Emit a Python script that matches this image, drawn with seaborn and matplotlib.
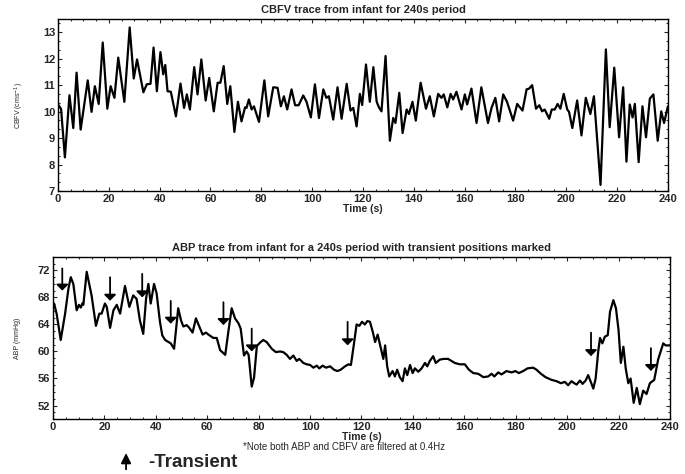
import pandas as pd
import seaborn as sns
import matplotlib.pyplot as plt
from matplotlib.ticker import MultipleLocator

# CBFV trace (time s, cm/s)
cbfv_time = [0, 1.2, 2.7, 4.5, 6.0, 7.3, 8.9, 11.7, 13.2, 14.5, 16.0, 17.6, 19.4, 20.7, 22.2,
             23.7, 26.1, 28.2, 29.8, 31.1, 33.6, 34.9, 36.4, 37.6, 38.9, 40.3, 41.4, 42.2, 43.1,
             44.4, 46.4, 48.2, 49.6, 50.7, 51.9, 53.6, 54.9, 56.4, 58.1, 59.5, 61.3, 62.8, 63.9,
             65.2, 66.6, 67.8, 69.4, 70.8, 72.2, 73.6, 74.2, 75.1, 76.2, 77.1, 79.1, 81.2, 82.7,
             84.7, 86.4, 87.7, 88.9, 90.2, 91.9, 93.3, 94.7, 96.5, 97.8, 99.5, 101.1, 102.7, 104.4,
             105.6, 106.6, 108.3, 110.0, 111.6, 113.6, 115.1, 116.2, 117.5, 118.8, 119.7, 121.2,
             122.7, 124.1, 125.4, 126.3, 127.3, 128.9, 130.6, 131.9, 132.8, 134.3, 135.6, 137.2,
             138.1, 139.5, 140.8, 142.7, 144.8, 146.3, 147.9, 149.6, 150.9, 151.8, 153.2, 154.5,
             155.5, 156.8, 158.8, 160.1, 161.0, 162.7, 164.7, 166.6, 169.2, 170.6, 172.1, 173.6,
             175.2, 176.7, 179.1, 180.7, 182.8, 184.4, 185.4, 186.6, 188.1, 189.4, 190.5, 191.5,
             192.2, 193.3, 194.3, 195.5, 196.6, 197.7, 199.0, 200.4, 201.1, 202.4, 204.3, 206.0,
             207.7, 209.5, 210.9, 213.5, 215.6, 217.1, 218.9, 220.8, 222.4, 223.7, 225.0, 226.1,
             227.0, 228.5, 230.0, 231.4, 232.9, 234.3, 236.0, 237.4, 238.5, 240.0]
cbfv_value = [10.27, 10.1, 8.27, 10.62, 9.38, 11.47, 9.32, 11.18, 9.99, 10.96, 10.29, 12.61, 10.11,
              10.96, 10.52, 12.04, 10.37, 13.18, 11.25, 11.97, 10.73, 11.03, 11.05, 12.42, 10.77,
              12.25, 11.41, 11.76, 10.77, 10.75, 9.82, 11.06, 10.14, 10.65, 10.08, 11.68, 10.65,
              11.97, 10.42, 11.27, 10.01, 11.09, 11.09, 11.72, 10.29, 10.96, 9.23, 10.37, 9.63,
              10.16, 10.14, 10.46, 10.08, 10.2, 9.61, 11.18, 9.82, 10.92, 10.9, 10.2, 10.58, 10.08,
              10.84, 10.24, 10.24, 10.61, 10.37, 9.78, 11.03, 9.76, 10.84, 10.52, 10.58, 9.7, 10.92,
              9.73, 11.05, 10.04, 10.14, 9.44, 10.67, 10.25, 11.78, 10.37, 11.68, 10.37, 10.16,
              10.01, 12.1, 8.9, 9.76, 9.57, 10.71, 9.19, 10.08, 9.91, 10.37, 9.66, 11.09, 10.11,
              10.58, 9.82, 10.67, 10.52, 10.65, 10.16, 10.67, 10.46, 10.75, 10.08, 10.65, 10.27,
              10.87, 9.57, 10.92, 9.57, 10.14, 10.52, 9.63, 10.65, 10.37, 9.66, 10.29, 10.04, 10.84,
              10.87, 11.0, 10.11, 10.24, 10.01, 10.08, 9.95, 9.73, 10.08, 10.08, 10.29, 10.11, 10.67,
              10.08, 9.99, 9.38, 10.42, 9.1, 10.52, 9.91, 10.58, 7.23, 12.35, 9.41, 11.66, 9.03,
              10.92, 8.11, 10.27, 9.78, 10.29, 8.09, 10.2, 9.03, 10.49, 10.65, 8.9, 10.01, 9.57, 10.2]

# ABP trace (time s, mmHg)
abp_time = [0.4, 1.4, 3.0, 4.7, 6.0, 6.9, 7.9, 9.2, 10.1, 10.8, 11.4, 11.8, 13.1, 15.0, 16.7,
            18.0, 18.9, 20.2, 20.9, 22.2, 23.5, 24.8, 26.1, 28.0, 29.7, 31.2, 32.5, 33.8, 35.1,
            36.2, 37.1, 38.0, 39.3, 40.3, 41.6, 42.5, 43.6, 44.5, 45.8, 47.1, 48.7, 49.8, 50.7,
            52.0, 53.0, 54.3, 55.6, 56.9, 58.2, 59.5, 60.8, 62.4, 63.7, 65.0, 67.0, 68.2, 69.5,
            70.8, 72.1, 73.0, 74.3, 75.3, 76.1, 77.3, 78.2, 79.3, 80.5, 81.8, 83.1, 85.1, 86.7,
            88.3, 89.6, 90.9, 92.2, 93.5, 94.8, 95.8, 97.4, 98.7, 100.0, 101.3, 102.6, 103.6,
            104.9, 106.2, 107.8, 109.3, 110.6, 111.9, 113.6, 114.9, 115.9, 117.1, 118.1, 119.2,
            120.2, 121.3, 122.3, 123.3, 124.4, 125.3, 126.3, 127.5, 128.5, 129.2, 130.0, 130.8,
            132.1, 133.0, 133.9, 134.9, 136.0, 136.9, 137.8, 138.9, 139.9, 140.8, 142.1, 143.4,
            144.7, 145.6, 146.6, 147.9, 148.9, 150.5, 152.0, 153.7, 155.0, 156.3, 158.2, 160.2,
            161.8, 163.5, 165.4, 167.4, 169.3, 170.6, 171.7, 173.2, 174.5, 176.4, 178.4, 179.9,
            181.2, 182.9, 184.6, 186.8, 188.1, 189.8, 191.6, 193.9, 195.9, 197.6, 199.1, 200.4,
            201.7, 202.8, 203.7, 205.0, 206.0, 207.2, 208.2, 208.9, 210.2, 211.1, 212.1, 212.8,
            213.7, 214.7, 215.8, 216.7, 218.0, 219.0, 220.0, 220.9, 221.9, 222.8, 223.8, 224.7,
            225.9, 227.1, 228.3, 229.6, 230.9, 232.2, 233.9, 235.4, 237.4, 238.3, 240.0]
abp_value = [67.1, 65.6, 61.7, 65.6, 69.3, 71.0, 70.0, 66.1, 66.9, 66.5, 67.1, 66.9, 71.8, 68.3,
             63.8, 65.6, 65.6, 67.1, 66.6, 63.5, 66.1, 66.9, 65.6, 69.7, 66.6, 68.3, 67.8, 64.6,
             62.6, 67.8, 70.0, 67.1, 70.0, 68.6, 64.4, 62.4, 61.7, 61.5, 61.2, 60.4, 66.4, 64.6,
             63.7, 63.9, 63.5, 62.8, 64.9, 63.7, 62.5, 62.8, 62.4, 62.0, 62.0, 60.2, 59.5, 62.9,
             66.4, 64.9, 64.2, 63.4, 59.4, 60.0, 59.5, 54.8, 56.1, 60.8, 61.3, 61.7, 61.4, 60.4,
             59.9, 60.0, 59.9, 59.5, 58.9, 59.4, 58.6, 58.9, 58.3, 58.1, 58.0, 57.6, 57.9, 57.5,
             57.9, 57.6, 57.8, 57.3, 57.1, 57.3, 57.8, 58.1, 58.0, 61.2, 64.0, 63.8, 64.4, 64.0,
             64.5, 64.4, 62.9, 61.4, 62.5, 60.5, 58.9, 60.9, 57.8, 56.3, 57.1, 56.3, 57.3, 56.2,
             55.6, 57.5, 56.5, 58.0, 56.8, 57.5, 57.0, 57.5, 58.3, 57.8, 58.6, 59.3, 58.3, 58.8,
             58.9, 58.9, 58.6, 58.3, 58.1, 58.1, 57.3, 56.8, 56.7, 56.2, 56.3, 56.7, 56.3, 56.9,
             56.6, 57.1, 56.9, 57.1, 56.8, 57.1, 57.5, 57.6, 57.3, 56.7, 56.2, 55.8, 55.6, 55.3,
             55.5, 55.0, 55.6, 55.3, 55.1, 55.7, 55.2, 55.7, 56.5, 55.8, 54.5, 56.0, 60.0, 62.0,
             61.2, 62.2, 62.4, 65.9, 67.6, 66.4, 63.2, 58.3, 60.7, 57.5, 55.3, 56.0, 52.4, 54.6,
             52.2, 54.2, 53.7, 55.3, 55.8, 58.8, 61.2, 60.9, 60.9]

# transient markers: time, arrow top, arrow tip
transient_time = [3.6, 22.2, 34.7, 45.8, 66.3, 77.3, 114.6, 209.3, 232.6]
transient_top = [72.7, 71.4, 71.9, 67.9, 67.7, 63.8, 64.8, 63.2, 60.9]
transient_tip = [68.6, 67.1, 67.6, 63.7, 63.5, 59.6, 60.5, 58.9, 56.7]

cbfv_df = pd.DataFrame({'Time': cbfv_time, 'CBFV': cbfv_value})
abp_df = pd.DataFrame({'Time': abp_time, 'ABP': abp_value})

sns.set_style('ticks')
plt.rcParams['font.family'] = ['Liberation Sans', 'DejaVu Sans']
plt.rcParams['xtick.direction'] = 'in'
plt.rcParams['ytick.direction'] = 'in'

fig = plt.figure(figsize=(6.85, 4.74), dpi=100)
ax1 = fig.add_axes([0.0847, 0.597, 0.8903, 0.363])
ax2 = fig.add_axes([0.0774, 0.116, 0.9006, 0.342])

sns.lineplot(data=cbfv_df, x='Time', y='CBFV', ax=ax1, color='black', linewidth=1.6,
             solid_joinstyle='round')
sns.lineplot(data=abp_df, x='Time', y='ABP', ax=ax2, color='black', linewidth=1.6,
             solid_joinstyle='round')

for ax in (ax1, ax2):
    ax.set_xlim(0, 240)
    ax.xaxis.set_major_locator(MultipleLocator(20))
    ax.xaxis.set_minor_locator(MultipleLocator(5))
    ax.tick_params(which='both', top=True, right=True, labelsize=8, length=3, width=0.8, pad=2)
    ax.tick_params(which='minor', length=1.5)
    ax.set_xlabel('Time (s)', fontsize=7.5, fontweight='bold', labelpad=0)
    for s in ax.spines.values():
        s.set_linewidth(1.0)
        s.set_color('black')
    for lab in ax.get_xticklabels() + ax.get_yticklabels():
        lab.set_fontweight('bold')

ax1.set_ylim(7, 13.5)
ax1.yaxis.set_major_locator(MultipleLocator(1))
ax1.yaxis.set_minor_locator(MultipleLocator(1 / 3))
ax1.set_ylabel('CBFV (cms$^{-1}$)', fontsize=5, labelpad=12)
ax1.set_title('CBFV trace from infant for 240s period', fontsize=8, fontweight='bold', pad=4)

ax2.set_ylim(50, 74)
ax2.yaxis.set_major_locator(MultipleLocator(4))
ax2.yaxis.set_minor_locator(MultipleLocator(1))
ax2.set_ylabel('ABP (mmHg)', fontsize=5, labelpad=12)
ax2.set_title('ABP trace from infant for a 240s period with transient positions marked',
              fontsize=8, fontweight='bold', pad=4)

for t, top, tip in zip(transient_time, transient_top, transient_tip):
    ax2.annotate('', xy=(t, tip), xytext=(t, top),
                 arrowprops=dict(arrowstyle='-|>,head_width=0.35,head_length=0.35',
                                 color='black', lw=1.3))

fig.text(0.502, 0.057, '*Note both ABP and CBFV are filtered at 0.4Hz', fontsize=7,
         ha='center', va='center')
fig.text(0.216, 0.025, '-Transient', fontsize=13.5, fontweight='bold', ha='left', va='center')
ax2.annotate('', xy=(0.184, 0.05), xycoords='figure fraction',
             xytext=(0.184, 0.004), textcoords='figure fraction',
             arrowprops=dict(arrowstyle='-|>,head_width=0.3,head_length=0.6',
                             color='black', lw=1.3), annotation_clip=False)

plt.savefig('out.png', dpi=100)
